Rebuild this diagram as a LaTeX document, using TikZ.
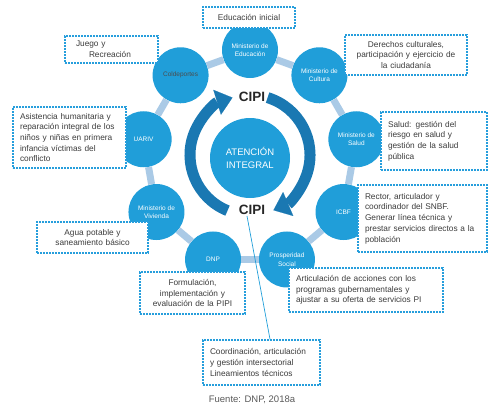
\documentclass[tikz,border=0pt]{standalone}
\usepackage{fontspec}
\setmainfont{Liberation Sans}
\usetikzlibrary{arrows.meta}
\definecolor{cipiblue}{RGB}{32,158,217}
\definecolor{cipidark}{RGB}{26,120,178}
\definecolor{barblue}{RGB}{170,202,230}
\definecolor{dotblue}{RGB}{38,158,220}
\definecolor{notegray}{RGB}{60,60,60}
\tikzset{
  entity/.style={circle,fill=cipiblue,minimum size=56pt,inner sep=1pt,align=center,text=white,font=\fontsize{6.5}{8.5}\selectfont},
  note/.style={draw=dotblue,line width=1.6pt,dash pattern=on 1.6pt off 1.4pt,fill=white,text=notegray,inner xsep=7pt,inner ysep=2pt,font=\fontsize{8.3}{10.7}\selectfont},
  bar/.style={barblue,line width=7pt},
  cyclearrow/.style={cipidark,line width=11pt,-{Triangle[length=16pt 0 0,width=26pt 0 0,line width=0.1pt]}},
  cipi/.style={font=\fontsize{13.5}{14}\bfseries\selectfont,text=black!85,inner sep=1pt},
  link/.style={cipiblue,line width=0.7pt}
}
\begin{document}
\begin{tikzpicture}[x=1pt,y=-1pt]
\useasboundingbox (0,0) rectangle (489,407);
\coordinate (hub) at (250,158);
\coordinate (ring) at (250,155);
% ring of entities
\node[entity,minimum size=80pt,font=\fontsize{9.5}{13}\selectfont] (aten) at (hub) {ATENCIÓN\\INTEGRAL};
\node[entity] (educ) at ([shift={(-90:108)}]hub) {Ministerio de\\Educación};
\node[entity] (cult) at ([shift={(-50:108)}]hub) {Ministerio de\\Cultura};
\node[entity] (salud) at ([shift={(-10:108)}]hub) {Ministerio de\\Salud};
\node[entity] (icbf) at ([shift={(30:108)}]hub) {ICBF};
\node[entity] (prosp) at ([shift={(70:108)}]hub) {Prosperidad\\Social};
\node[entity] (dnp) at ([shift={(110:108)}]hub) {DNP};
\node[entity] (vivi) at ([shift={(150:108)}]hub) {Ministerio de\\Vivienda};
\node[entity] (uariv) at ([shift={(190:108)}]hub) {UARIV};
\node[entity,text=black!70] (colde) at ([shift={(230:108)}]hub) {Coldeportes};
\foreach \a/\b in {educ/cult,cult/salud,salud/icbf,icbf/prosp,prosp/dnp,dnp/vivi,vivi/uariv,uariv/colde,colde/educ}
  \draw[bar] (\a) -- (\b);
% CIPI cycle
\draw[cyclearrow] ([shift={(112:60)}]ring) arc[start angle=112,end angle=253,radius=60];
\draw[cyclearrow] ([shift={(-73:60)}]ring) arc[start angle=-73,end angle=67,radius=60];
\node[cipi] (cipit) at (252,97) {CIPI};
\node[cipi] (cipib) at (252,210) {CIPI};
% notes
\node[note,text width=78pt,minimum height=21pt,align=center] (inicial) at (249,17.5) {Educación inicial};
\node[note,text width=79pt,minimum height=27pt,align=left] (juego) at (111.5,49.5) {\hspace*{4pt}Juego y\\\hspace*{17pt}Recreación};
\node[note,text width=108pt,minimum height=40pt,align=center] (derechos) at (406,55) {Derechos culturales,\\participación y ejercicio de\\la ciudadanía};
\node[note,text width=92pt,minimum height=58pt,align=left] (riesgo) at (434,141) {Salud: gestión del\\riesgo en salud y\\gestión de la salud\\pública};
\node[note,text width=115pt,minimum height=67pt,align=left] (rector) at (422.5,218.5) {Rector, articulador y\\coordinador del SNBF.\\Generar línea técnica y\\prestar servicios directos a la\\población};
\node[note,text width=140pt,minimum height=44pt,align=left] (articul) at (366,290) {Articulación de acciones con los\\programas gubernamentales y\\ajustar a su oferta de servicios PI};
\node[note,text width=91pt,minimum height=42pt,align=center] (formul) at (192.5,293) {Formulación,\\implementación y\\evaluación de la PIPI};
\node[note,text width=97pt,minimum height=31pt,align=center] (agua) at (92.5,237.5) {Agua potable y\\saneamiento básico};
\node[note,text width=99pt,minimum height=61pt,align=left] (asist) at (69.5,137.5) {Asistencia humanitaria y\\reparación integral de los\\niños y niñas en primera\\infancia víctimas del\\conflicto};
\node[note,text width=103pt,minimum height=45pt,align=left] (coord) at (261.5,362.5) {Coordinación, articulación\\y gestión intersectorial\\Lineamientos técnicos};
\draw[link] ([xshift=-5pt]cipib.south) -- ([xshift=8.5pt]coord.north);
\node[text=black!65,font=\fontsize{9.5}{11}\selectfont] (fuente) at (252,400) {Fuente: DNP, 2018a};
\end{tikzpicture}
\end{document}
